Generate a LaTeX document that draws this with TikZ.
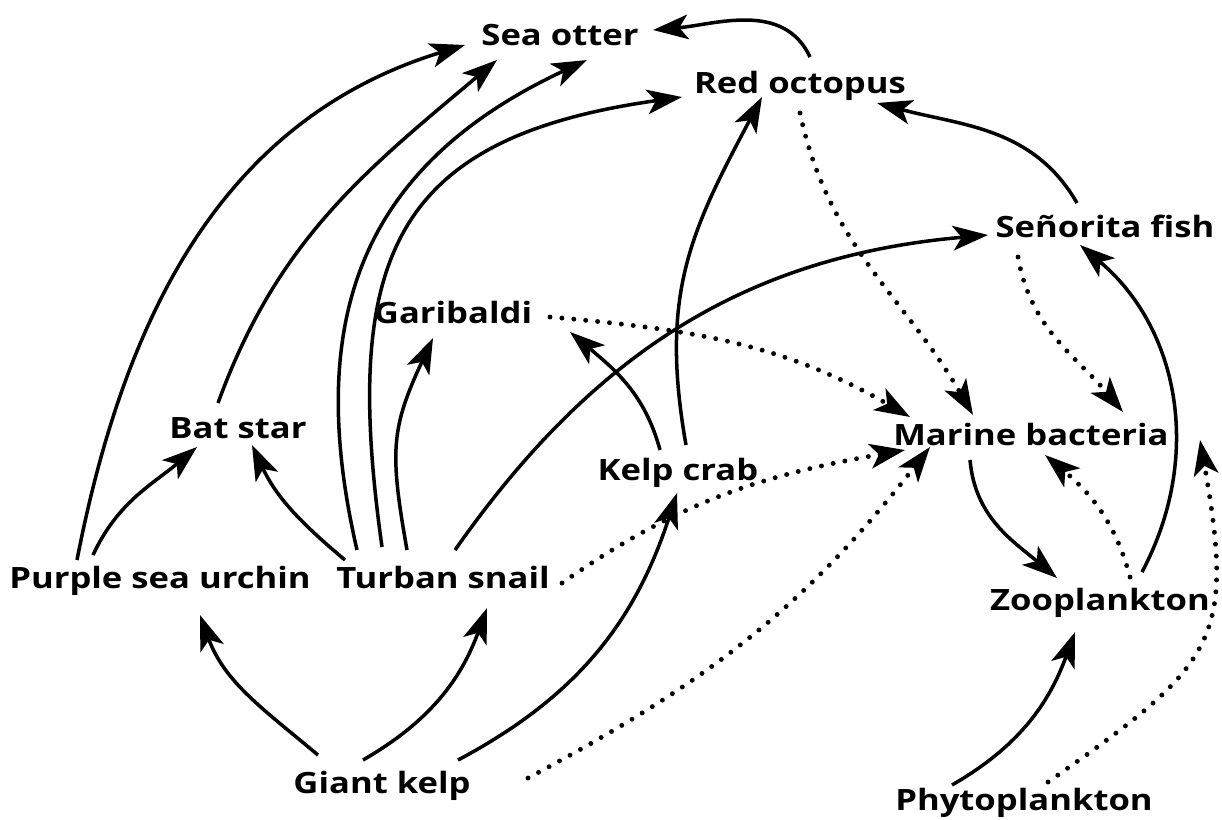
\documentclass[tikz,border=0pt]{standalone}
\usepackage{fontspec}
\setmainfont{Open Sans}[FakeStretch=1.18]
\usetikzlibrary{calc, arrows.meta}
\tikzset{art/.style={font=\bfseries\fontsize{16.7}{20}\selectfont, inner sep=1pt,
		text height=0.76em, text depth=0.24em, anchor=base},
	frisst/.style={line width=2pt, -{Stealth[length=20pt, width=14pt, inset=5pt]}},
	abbau/.style={frisst, line width=2.8pt, line cap=round, dash pattern=on 0pt off 6.8pt} }

\begin{document}
\begin{tikzpicture}[x=0.02cm, y=-0.02cm]
  \useasboundingbox (0,0) rectangle (1222,819);

  % arten
  \node (otter) [art] at (560,45) {Sea otter};
  \node (octopus) [art] at (800,93) {Red octopus};
  \node (senorita) [art] at (1105,237) {Señorita fish};
  \node (garibaldi) [art] at (453,323) {Garibaldi};
  \node (batstar) [art] at (238,438) {Bat star};
  \node (bacteria) [art] at (1031,445) {Marine bacteria};
  \node (kelpcrab) [art] at (678,480) {Kelp crab};
  \node (urchin) [art] at (160,588) {Purple sea urchin};
  \node (snail) [art] at (443,588) {Turban snail};
  \node (zoo) [art] at (1100,610) {Zooplankton};
  \node (kelp) [art] at (382,793) {Giant kelp};
  \node (phyto) [art] at (1024,810) {Phytoplankton};

  % fressen
  \draw[frisst] ($(urchin.base)+(-83,-28)$) to[out=79, in=197] ($(otter.base)+(-95,0)$);
  \draw[frisst] ($(urchin.base)+(-67,-33)$) to[out=65, in=220] ($(batstar.base)+(-41,9)$);
  \draw[frisst] ($(batstar.base)+(-20,-35)$) to[out=70, in=220] ($(otter.base)+(-63,15)$);
  \draw[frisst] ($(snail.base)+(-86,-38)$) to[out=103, in=205, looseness=1.15] ($(otter.base)+(27,15)$);
  \draw[frisst] ($(snail.base)+(-61,-41)$) to[out=98, in=188, looseness=1.38] ($(octopus.base)+(-118,4)$);
  \draw[frisst] ($(snail.base)+(-98,-28)$) to[out=140, in=-65] ($(batstar.base)+(14,7)$);
  \draw[frisst] ($(snail.base)+(-36,-38)$) to[out=100, in=-115, looseness=1.2] ($(garibaldi.base)+(-20,15)$);
  \draw[frisst] ($(snail.base)+(12,-38)$) to[out=55, in=185] ($(senorita.base)+(-117,-2)$);
  \draw[frisst] ($(kelp.base)+(-64,-38)$) to[out=140, in=-70] ($(urchin.base)+(40,27)$);
  \draw[frisst] ($(kelp.base)+(-19,-33)$) to[out=30, in=-110] ($(snail.base)+(44,20)$);
  \draw[frisst] ($(kelp.base)+(76,-33)$) to[out=28, in=-108] ($(kelpcrab.base)+(-1,13)$);
  \draw[frisst] ($(kelpcrab.base)+(-18,-30)$) to[out=105, in=-40] ($(garibaldi.base)+(117,9)$);
  \draw[frisst] ($(kelpcrab.base)+(8,-35)$) to[out=100, in=-118, looseness=1.1] ($(octopus.base)+(-38,4)$);
  \draw[frisst] ($(octopus.base)+(10,-36)$) to[out=115, in=5] ($(otter.base)+(93,-15)$);
  \draw[frisst] ($(senorita.base)+(-28,-34)$) to[out=120, in=-15] ($(octopus.base)+(77,10)$);
  \draw[frisst] ($(bacteria.base)+(-61,15)$) to[out=-85, in=140] ($(zoo.base)+(-43,-32)$);
  \draw[frisst] ($(zoo.base)+(42,-38)$) to[out=62, in=-40] ($(senorita.base)+(-25,8)$);
  \draw[frisst] ($(phyto.base)+(-72,-25)$) to[out=30, in=-110] ($(zoo.base)+(-25,22)$);

  % abbau
  \draw[abbau] ($(garibaldi.base)+(97,-6)$) to[out=-5, in=150] ($(bacteria.base)+(-121,-28)$);
  \draw[abbau] ($(octopus.base)+(0,20)$) to[out=-78, in=120] ($(bacteria.base)+(-58,-30)$);
  \draw[abbau] ($(senorita.base)+(-87,20)$) to[out=-80, in=130] ($(bacteria.base)+(92,-33)$);
  \draw[abbau] ($(snail.base)+(119,-5)$) to[out=35, in=190] ($(bacteria.base)+(-126,5)$);
  \draw[abbau] ($(kelp.base)+(146,-15)$) to[out=28, in=-128] ($(bacteria.base)+(-101,2)$);
  \draw[abbau] ($(zoo.base)+(30,-33)$) to[out=105, in=-40] ($(bacteria.base)+(14,10)$);
  \draw[abbau] ($(phyto.base)+(24,-28)$) to[out=35, in=-80, looseness=1.4] ($(bacteria.base)+(169,-5)$);
\end{tikzpicture}
\end{document}
